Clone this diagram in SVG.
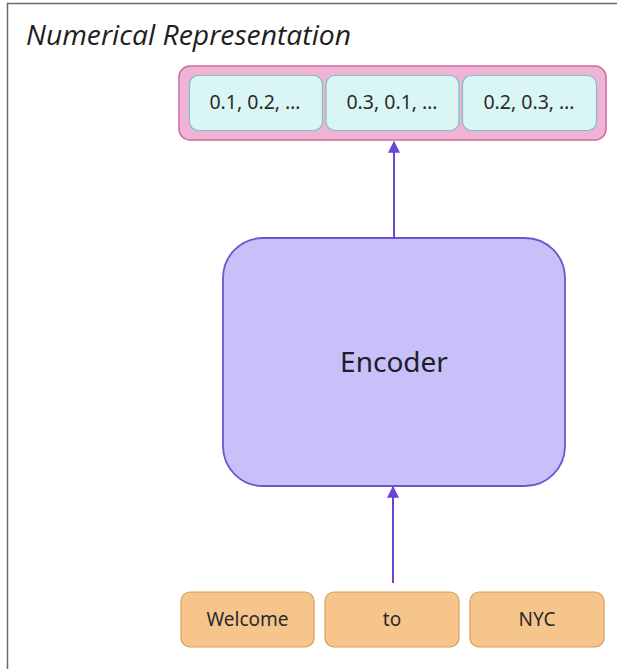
<svg xmlns="http://www.w3.org/2000/svg" width="617" height="669" viewBox="0 0 617 669">
<style>
.frame{stroke:#6a6a6a;stroke-width:1.5;fill:none}
.title{font-family:"Open Sans","Noto Sans",sans-serif;font-style:italic;font-size:26.5px;fill:#1e1e1e}
.vec{fill:#d9f6f5;stroke:#7fbfbd;stroke-width:1.2}
.vt{font-family:"Noto Sans","Open Sans",sans-serif;font-size:19.5px;fill:#2a2a2a;text-anchor:middle}
.tok{fill:#f5c58c;stroke:#dd9c5a;stroke-width:1.2}
.tt{font-family:"Noto Sans","Open Sans",sans-serif;font-size:19px;fill:#2a2a2a;text-anchor:middle}
.conn{stroke:#6a45d4;stroke-width:2;fill:none}
</style>
<defs>
<marker id="ah" viewBox="0 0 10 10" refX="9" refY="5" markerWidth="6" markerHeight="6" orient="auto" markerUnits="strokeWidth">
<path d="M0,0 L10,5 L0,10 z" fill="#6a45d4"/>
</marker>
</defs>
<rect width="617" height="669" fill="#fff"/>
<path class="frame" d="M7.5,669 V3.5 H617"/>
<text class="title" x="26" y="45" textLength="325" lengthAdjust="spacingAndGlyphs">Numerical Representation</text>
<g id="output">
<rect x="179" y="66" width="427" height="74" rx="11" fill="#efb3d6" stroke="#d2699f" stroke-width="1.5"/>
<g id="v1"><rect class="vec" x="189.5" y="75.5" width="133" height="55" rx="9"/><text class="vt" x="255" y="109">0.1, 0.2, …</text></g>
<g id="v2"><rect class="vec" x="326" y="75.5" width="133" height="55" rx="9"/><text class="vt" x="392" y="109">0.3, 0.1, …</text></g>
<g id="v3"><rect class="vec" x="462.5" y="75.5" width="134" height="55" rx="9"/><text class="vt" x="529" y="109">0.2, 0.3, …</text></g>
</g>
<g id="encoder">
<rect x="223" y="238" width="342" height="248" rx="40" fill="#c8c0f8" stroke="#7252d2" stroke-width="1.8"/>
<text x="394" y="372" font-family="Noto Sans, Open Sans, sans-serif" font-size="28" fill="#1e1e2a" text-anchor="middle">Encoder</text>
</g>
<g id="tokens">
<g id="t1"><rect class="tok" x="181" y="592" width="133" height="55" rx="9"/><text class="tt" x="247.5" y="626">Welcome</text></g>
<g id="t2"><rect class="tok" x="325" y="592" width="134" height="55" rx="9"/><text class="tt" x="392" y="626">to</text></g>
<g id="t3"><rect class="tok" x="470" y="592" width="134" height="55" rx="9"/><text class="tt" x="537" y="626">NYC</text></g>
</g>
<g id="connectors">
<line class="conn" x1="394" y1="238" x2="394" y2="142" marker-end="url(#ah)"/>
<line class="conn" x1="393" y1="583" x2="393" y2="487" marker-end="url(#ah)"/>
</g>
</svg>
